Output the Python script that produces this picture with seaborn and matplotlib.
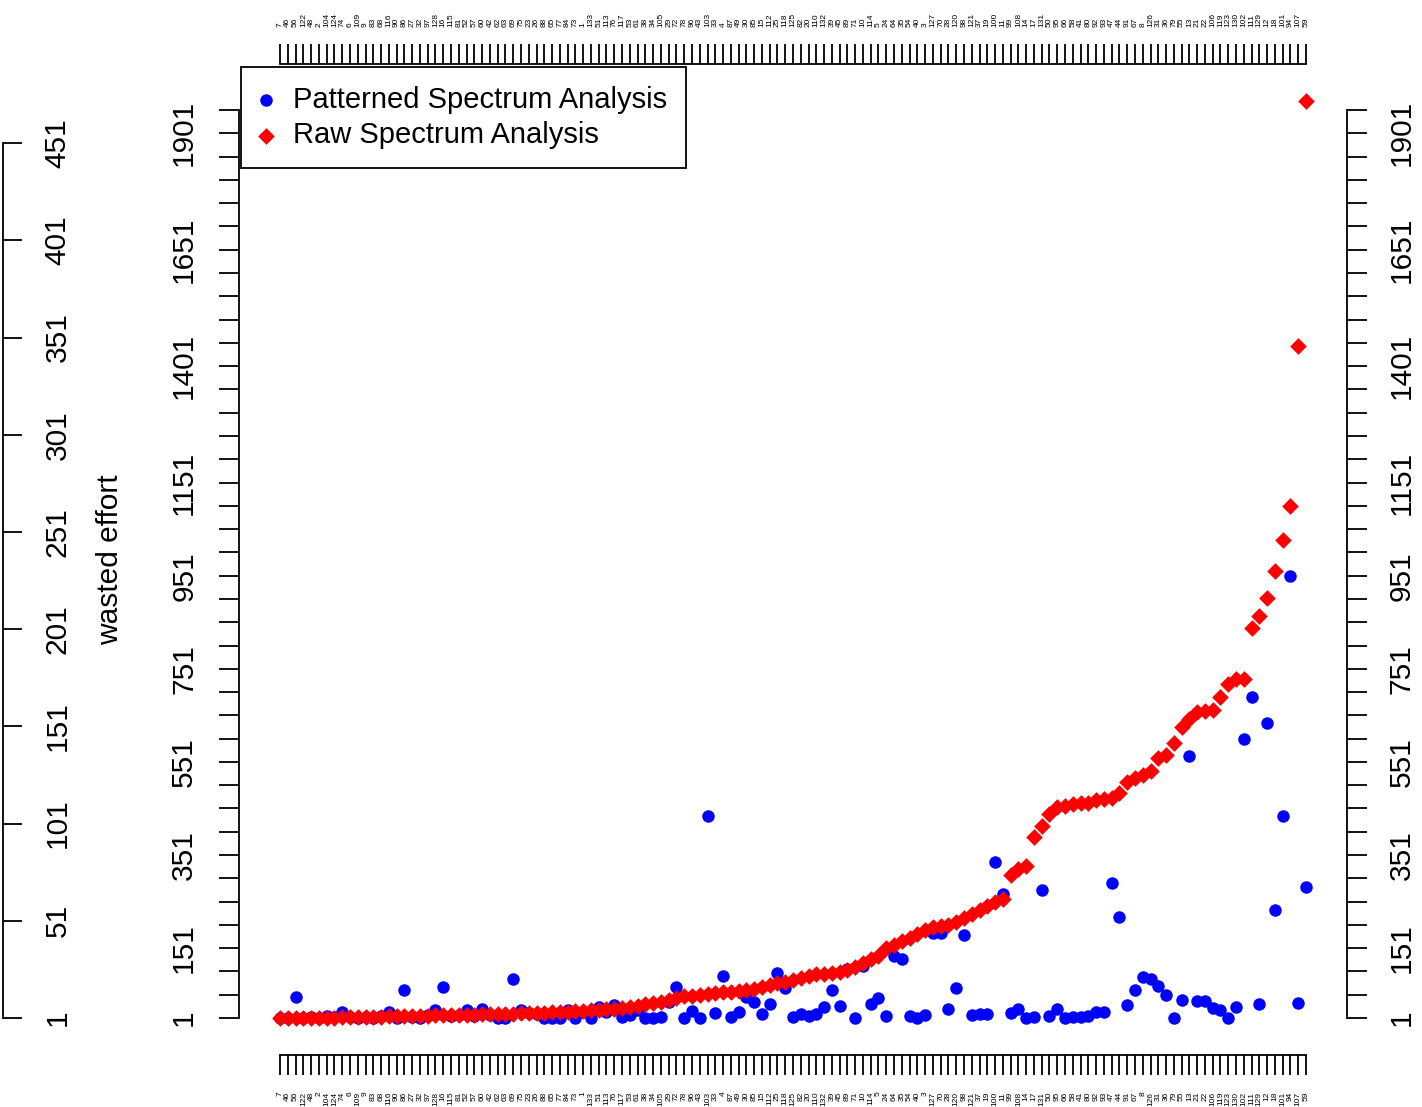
import numpy as np
import pandas as pd
import seaborn as sns
import matplotlib
matplotlib.use("Agg")
import matplotlib.pyplot as plt

# case ids in plotting order (bottom/top tick labels)
case_ids = [7, 46, 56, 122, 48, 2, 104, 124, 74, 6, 109, 9, 83, 68, 116, 90, 86, 27, 32, 97,
            128, 16, 115, 81, 52, 57, 60, 42, 62, 63, 69, 75, 23, 26, 88, 65, 77, 84, 73, 1,
            133, 51, 113, 76, 117, 53, 61, 38, 34, 105, 29, 72, 78, 96, 43, 103, 33, 4, 87, 49,
            30, 85, 15, 112, 25, 118, 125, 82, 20, 110, 132, 39, 45, 89, 71, 10, 114, 5, 24, 64,
            35, 54, 40, 3, 127, 70, 28, 120, 98, 121, 37, 19, 100, 11, 99, 108, 14, 17, 131, 50,
            95, 66, 58, 41, 80, 92, 93, 47, 44, 91, 67, 8, 126, 31, 36, 79, 55, 13, 21, 22,
            106, 119, 123, 130, 102, 111, 129, 12, 18, 101, 94, 107, 59]

raw = [1, 1, 1, 1, 1, 1, 1, 1, 3, 3, 3, 3, 3, 3, 5, 5, 5, 5, 5, 5,
       7, 7, 7, 7, 7, 7, 9, 9, 10, 10, 10, 12, 12, 12, 12, 14, 14, 14, 16, 16,
       18, 18, 20, 20, 22, 25, 27, 31, 33, 35, 40, 44, 48, 49, 50, 53, 55, 56, 57, 59,
       61, 63, 68, 72, 76, 78, 83, 87, 91, 95, 96, 98, 100, 104, 111, 119, 128, 134, 151, 158,
       166, 173, 181, 190, 196, 199, 201, 207, 216, 224, 233, 242, 250, 257, 308, 321, 327, 390, 413, 439,
       454, 456, 461, 462, 463, 469, 471, 474, 484, 508, 516, 523, 532, 559, 566, 592, 626, 643, 658, 660,
       663, 690, 718, 729, 730, 839, 864, 903, 961, 1028, 1101, 1445, 1971]

patterned = [1, 1, 46, 1, 3, 1, 5, 3, 14, 3, 1, 3, 1, 5, 14, 1, 61, 3, 1, 7,
             18, 68, 5, 7, 18, 5, 20, 7, 0, 0, 85, 18, 12, 10, 0, 0, 0, 18, 0, 14,
             0, 25, 14, 29, 3, 7, 18, 1, 1, 3, 35, 68, 1, 16, 1, 435, 12, 91, 3, 14,
             46, 35, 10, 31, 98, 65, 3, 10, 5, 10, 25, 61, 27, 106, 1, 113, 31, 44, 5, 134,
             128, 5, 0, 7, 184, 184, 20, 65, 179, 7, 10, 10, 336, 267, 12, 20, 1, 3, 276, 5,
             20, 1, 3, 3, 5, 14, 14, 291, 218, 29, 61, 89, 85, 70, 50, 1, 40, 564, 38, 38,
             22, 18, 1, 25, 600, 690, 31, 635, 233, 435, 950, 33, 282]

inner_labels = [1, 151, 351, 551, 751, 951, 1151, 1401, 1651, 1901]
effort_ticks = [1, 51, 101, 151, 201, 251, 301, 351, 401, 451]

df = pd.DataFrame({"pos": np.arange(1, len(case_ids) + 1),
                   "case": case_ids, "raw": raw, "patterned": patterned})

sns.set_style("ticks", rc={"text.color": "black", "axes.labelcolor": "black",
                           "xtick.color": "black", "ytick.color": "black"})
plt.rcParams['font.family'] = ['Liberation Sans', 'DejaVu Sans']

W, H = 1422, 1107
fig = plt.figure(figsize=(W / 100, H / 100), dpi=100)
ax = fig.add_axes([239 / W, 52 / H, 1108 / W, 991 / H])

sns.scatterplot(data=df, x="pos", y="patterned", color="blue", marker="o", s=81,
                linewidth=0, label="Patterned Spectrum Analysis", ax=ax)
sns.scatterplot(data=df, x="pos", y="raw", color="red", marker="D", s=72,
                linewidth=0, label="Raw Spectrum Analysis", ax=ax)

ax.set_xlim(-4.28, 138.28)
ax.set_ylim(-78.5, 2050)
ax.set_xlabel("")
ax.set_ylabel("")

ax.set_xticks(df["pos"])
ax.set_xticklabels(df["case"])
ax.tick_params(axis="x", top=True, labeltop=True, bottom=True, labelbottom=True,
               length=14.4, width=1.3, direction="out", pad=12, labelsize=6,
               labelrotation=90, colors="black")

yt = np.arange(1, 1952, 50)
ax.set_yticks(yt)
ax.set_yticklabels([str(v) if v in inner_labels else "" for v in yt])
ax.tick_params(axis="y", left=True, right=True, labelleft=True, labelright=True,
               length=14.4, width=1.3, direction="out", pad=15, labelsize=21.5,
               labelrotation=90, colors="black")
for t in ax.get_yticklabels():
    t.set_va("center")

for side in ["left", "right"]:
    ax.spines[side].set_bounds(1, 1951)
for side in ["top", "bottom"]:
    ax.spines[side].set_bounds(1, 133)
for sp in ax.spines.values():
    sp.set_linewidth(1.3)
    sp.set_color("black")

# outer "wasted effort" axis on far left
ax_out = fig.add_axes([3 / W, 52 / H, 0.0001, 991 / H])
ax_out.set_ylim(-18.04, 491.7)
ax_out.patch.set_visible(False)
for s in ["left", "top", "bottom"]:
    ax_out.spines[s].set_visible(False)
ax_out.spines["right"].set_bounds(1, 451)
ax_out.spines["right"].set_linewidth(1.3)
ax_out.spines["right"].set_color("black")
ax_out.set_xticks([])
ax_out.yaxis.tick_right()
ax_out.set_yticks(effort_ticks)
ax_out.tick_params(axis="y", length=14, width=1.3, direction="out", pad=15,
                   labelsize=21.5, labelrotation=90, colors="black")
for t in ax_out.get_yticklabels():
    t.set_va("center")

fig.text(110 / W, 1 - 560 / H, "wasted effort", rotation=90, ha="center", va="center",
         fontsize=21.5, color="black")

leg = ax.legend(loc="upper left", bbox_to_anchor=(241 / W, 1 - 67 / H),
                bbox_transform=fig.transFigure, frameon=True, fancybox=False,
                edgecolor="black", framealpha=1, borderpad=0.65, labelspacing=0.25,
                handlelength=0.4, handletextpad=0.72, borderaxespad=0, fontsize=21)
leg.get_frame().set_linewidth(1.3)
for txt in leg.get_texts():
    txt.set_color("black")

fig.savefig("out.png", dpi=100)
